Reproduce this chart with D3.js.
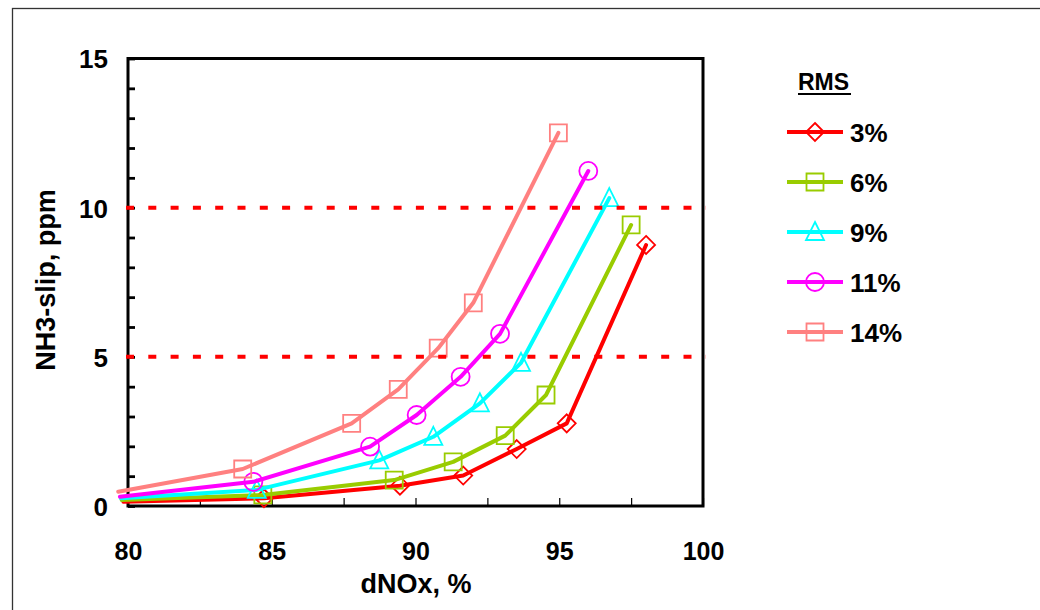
<!DOCTYPE html>
<html>
<head>
<meta charset="utf-8">
<script src="https://cdn.jsdelivr.net/npm/d3@7"></script>
<style>
  html, body { margin: 0; padding: 0; background: #fff; }
  svg { display: block; }
  text { font-family: "Liberation Sans", Arial, sans-serif; font-weight: bold; fill: #000; }
</style>
</head>
<body>
<svg id="chart" width="1040" height="610"></svg>
<script>
// RMS levels shown in the legend
const rmsLabels = ["3%", "6%", "9%", "11%", "14%"];

// dNOx (%) for each RMS series
const dNOx3  = [79.84, 84.73, 89.46, 91.66, 93.52, 95.26, 98.02];
const dNOx6  = [79.78, 84.69, 89.26, 91.31, 93.12, 94.54, 97.50];
const dNOx9  = [79.75, 84.48, 88.74, 90.62, 92.24, 93.67, 96.74];
const dNOx11 = [79.72, 84.36, 88.42, 90.04, 91.57, 92.94, 96.01];
const dNOx14 = [79.66, 83.99, 87.78, 89.40, 90.79, 92.01, 94.97];

// NH3 slip (ppm) for each RMS series
const slip3  = [0.14, 0.26, 0.68, 1.02, 1.91, 2.77, 8.75];
const slip6  = [0.20, 0.37, 0.87, 1.48, 2.36, 3.72, 9.42];
const slip9  = [0.26, 0.54, 1.53, 2.32, 3.44, 4.80, 10.32];
const slip11 = [0.31, 0.81, 1.99, 3.05, 4.33, 5.77, 11.23];
const slip14 = [0.48, 1.24, 2.77, 3.91, 5.29, 6.81, 12.51];

// Horizontal limit lines (ppm)
const limitLevels = [5, 10];

// Axis ticks
const xTickLabels = [80, 85, 90, 95, 100];
const yTickLabels = [0, 5, 10, 15];

const colors  = ["#ff0000", "#99cc00", "#00ffff", "#ff00ff", "#ff8080"];
const shapes  = ["diamond", "square", "triangle", "circle", "square"];

const xs = [dNOx3, dNOx6, dNOx9, dNOx11, dNOx14];
const ys = [slip3, slip6, slip9, slip11, slip14];
const series = rmsLabels.map((name, i) => ({
  name, color: colors[i], shape: shapes[i],
  points: xs[i].map((x, j) => ({ x, y: ys[i][j] }))
}));

const svg = d3.select("#chart");

// outer chart frame
svg.append("rect")
  .attr("x", 12.5).attr("y", 8.5)
  .attr("width", 1100).attr("height", 700)
  .attr("fill", "none").attr("stroke", "#333").attr("stroke-width", 1.3);

const plot = { left: 128, right: 703, top: 58.5, bottom: 506 };

const x = d3.scaleLinear().domain([80, 100]).range([plot.left, plot.right]);
const y = d3.scaleLinear().domain([0, 15]).range([plot.bottom, plot.top]);

// minor ticks pointing into the plot
svg.append("g")
  .attr("transform", `translate(${plot.left},0)`)
  .call(d3.axisRight(y).tickValues(d3.range(0, 16, 1)).tickSize(7).tickFormat(""))
  .call(g => g.select(".domain").remove())
  .call(g => g.selectAll("line").attr("stroke", "#000").attr("stroke-width", 2.8));

svg.append("g")
  .attr("transform", `translate(0,${plot.bottom})`)
  .call(d3.axisTop(x).tickValues(d3.range(80, 100.1, 2.5)).tickSize(8).tickFormat(""))
  .call(g => g.select(".domain").remove())
  .call(g => g.selectAll("line").attr("stroke", "#000").attr("stroke-width", 1.2));

// tick labels
svg.append("g")
  .attr("transform", `translate(0,${plot.bottom + 54})`)
  .call(d3.axisBottom(x).tickValues(xTickLabels).tickSize(0).tickPadding(0))
  .call(g => g.select(".domain").remove())
  .call(g => g.selectAll("text").attr("font-size", 25).attr("dy", 0)
    .style("font-family", "'Liberation Sans', Arial, sans-serif").style("font-weight", "bold"));

svg.append("g")
  .attr("transform", `translate(${plot.left - 20},0)`)
  .call(d3.axisLeft(y).tickValues(yTickLabels).tickSize(0).tickPadding(0))
  .call(g => g.select(".domain").remove())
  .call(g => g.selectAll("text").attr("font-size", 26).attr("dy", "0.36em")
    .style("font-family", "'Liberation Sans', Arial, sans-serif").style("font-weight", "bold"));

// plot frame
svg.append("rect")
  .attr("x", plot.left).attr("y", plot.top)
  .attr("width", plot.right - plot.left).attr("height", plot.bottom - plot.top)
  .attr("fill", "none").attr("stroke", "#000").attr("stroke-width", 3);

// axis titles
svg.append("text")
  .attr("x", 416).attr("y", 593)
  .attr("text-anchor", "middle").attr("font-size", 27)
  .text("dNOx, %");

svg.append("text")
  .attr("transform", "translate(55,280) rotate(-90)")
  .attr("text-anchor", "middle").attr("font-size", 27)
  .text("NH3-slip, ppm");

// marker path generator
function markerPath(shape) {
  switch (shape) {
    case "diamond": return "M0,-9L9,0L0,9L-9,0Z";
    case "square": return "M-8.5,-8.5H8.5V8.5H-8.5Z";
    case "triangle": return "M0,-10L9,8H-9Z";
    case "circle": return "M9,0A9,9 0 1,1 -9,0A9,9 0 1,1 9,0Z";
  }
}

const line = d3.line().x(d => x(d.x)).y(d => y(d.y));

const sg = svg.append("g").selectAll("g").data(series).join("g");
sg.append("path")
  .attr("d", d => line(d.points))
  .attr("fill", "none")
  .attr("stroke", d => d.color)
  .attr("stroke-width", 4)
  .attr("stroke-linejoin", "round")
  .attr("stroke-linecap", "round");
sg.each(function (s) {
  d3.select(this).selectAll("path.mk")
    .data(s.points.filter(p => p.x >= x.domain()[0]))
    .join("path")
    .attr("class", "mk")
    .attr("transform", p => `translate(${x(p.x)},${y(p.y)})`)
    .attr("d", markerPath(s.shape))
    .attr("fill", "none")
    .attr("stroke", s.color)
    .attr("stroke-width", 1.8);
});

// dashed limit lines
svg.append("g").selectAll("line").data(limitLevels).join("line")
  .attr("x1", plot.left - 2).attr("x2", plot.right + 3)
  .attr("y1", d => y(d)).attr("y2", d => y(d))
  .attr("stroke", "#ff0000").attr("stroke-width", 4)
  .attr("stroke-dasharray", "8,14.3");

// legend
const lg = svg.append("g");
lg.append("text").attr("x", 798).attr("y", 90).attr("font-size", 23).text("RMS");
lg.append("line").attr("x1", 798).attr("x2", 851).attr("y1", 94).attr("y2", 94)
  .attr("stroke", "#000").attr("stroke-width", 2);

const item = lg.selectAll("g.item").data(series).join("g")
  .attr("class", "item")
  .attr("transform", (d, i) => `translate(0,${132 + i * 50})`);
item.append("line")
  .attr("x1", 787).attr("x2", 843)
  .attr("stroke", d => d.color).attr("stroke-width", 4);
item.append("path")
  .attr("transform", "translate(815,0)")
  .attr("d", d => markerPath(d.shape))
  .attr("fill", "none").attr("stroke", d => d.color).attr("stroke-width", 1.8);
item.append("text")
  .attr("x", 850).attr("y", 9.5).attr("font-size", 26)
  .text(d => d.name);
</script>
</body>
</html>
